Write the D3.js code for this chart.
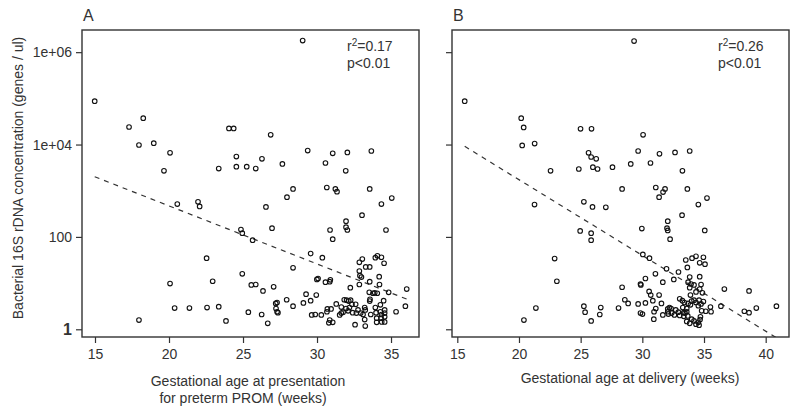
<!DOCTYPE html>
<html>
<head>
<meta charset="utf-8">
<script src="https://cdn.jsdelivr.net/npm/d3@7"></script>
<style>
  body { margin: 0; background: #fff; }
  text { font-family: "Liberation Sans", Arial, sans-serif; fill: #333; }
</style>
</head>
<body>
<div id="chart"></div>
<script>
// y values are log10(genes / ul)
const weeksA = [29.03,14.98,17.3,18.26,24.05,24.37,26.87,17.97,18.97,20.07,19.66,23.36,24.55,24.55,25.25,25.86,26.28,27.66,29.37,30.57,31.06,32.05,31.94,33.67,
  28.38,27.97,30.66,31.24,31.35,33.56,34.35,35.05,20.56,21.96,22.07,26.55,33.04,31.96,31.96,32.05,24.86,24.95,25.65,26.96,30.88,31.06,34.66,22.54,29.57,30.36,32.86,33.06,33.94,34.08,34.35,34.53,28.38,33.29,33.56,
  20.07,22.95,24.95,25.56,25.86,26.35,20.38,21.38,22.57,23.36,17.97,23.85,25.36,26.26,26.67,
  32.86,32.9,33.0,34.2,32.86,34.22,33.56,29.99,30.07,30.57,30.86,30.9,32.25,27.07,29.26,29.95,27.95,29.57,29.08,28.38,27.21,27.3,27.23,27.3,27.36,29.64,29.88,30.29,30.7,30.95,30.67,30.86,31.06,30.8,31.3,31.64,31.53,31.64,31.76,31.84,32.0,32.14,32.27,31.96,32.1,32.19,32.36,32.41,32.61,32.66,32.77,32.57,32.95,33.11,33.26,33.22,33.22,33.26,33.56,33.58,33.53,33.78,33.9,34.07,33.63,33.94,33.99,34.03,34.03,34.28,34.28,34.35,34.33,34.37,34.5,34.57,34.57,34.57,34.57,34.84,35.34,35.97,36.06];
const logConcA = [6.25,4.94,4.38,4.57,4.35,4.35,4.21,3.99,4.03,3.82,3.43,3.48,3.74,3.52,3.52,3.48,3.69,3.58,3.87,3.60,3.81,3.83,3.43,3.86,
  3.04,2.86,3.07,3.04,2.98,3.04,2.71,2.84,2.71,2.76,2.66,2.65,2.47,2.34,2.21,2.15,2.16,2.08,1.93,2.19,2.15,1.95,2.15,1.54,1.64,1.55,1.45,1.52,1.55,1.59,1.56,1.43,1.33,1.35,1.35,
  0.99,1.04,1.20,0.96,0.97,0.83,0.46,0.46,0.47,0.49,0.20,0.18,0.37,0.32,0.13,
  1.26,1.16,1.13,1.14,0.97,0.97,1.03,1.08,1.10,1.02,1.03,1.07,0.90,0.92,0.76,0.74,0.64,0.62,0.57,0.50,0.56,0.58,0.45,0.38,0.36,0.31,0.32,0.31,0.44,0.44,0.38,0.20,0.15,0.14,0.55,0.48,0.31,0.35,0.37,0.64,0.63,0.61,0.63,0.45,0.40,0.47,0.54,0.36,0.54,0.35,0.42,0.10,0.35,0.32,0.42,0.47,0.21,0.07,0.61,0.65,0.80,0.78,0.79,0.78,0.32,0.47,0.36,0.24,0.15,0.53,0.38,0.32,0.24,0.16,0.62,0.42,0.35,0.27,0.16,0.80,0.38,0.50,0.87];

const weeksB = [29.33,15.6,20.18,20.38,20.26,21.27,24.99,25.88,30.06,25.64,25.85,26.26,25.99,26.37,24.85,22.56,27.58,29.06,29.66,30.66,31.39,32.65,33.84,33.25,
  28.36,31.09,31.84,31.68,31.36,33.65,35.24,34.54,21.26,25.26,25.96,27.04,33.22,32.06,32.0,32.06,29.96,32.25,35.06,24.96,25.85,25.85,22.89,23.07,30.04,30.58,
  20.4,21.37,25.26,25.36,25.85,26.63,26.55,28.07,28.36,28.58,28.85,29.66,29.85,29.88,29.85,30.01,30.25,30.25,30.55,30.68,30.85,31.06,31.09,30.95,30.93,31.36,31.55,31.66,31.66,31.96,32.55,32.93,
  32.06,32.06,32.2,32.33,32.11,32.38,32.6,32.71,32.92,33.03,33.03,33.25,33.41,33.28,33.36,33.36,33.46,33.6,33.6,33.68,33.52,33.65,34.03,34.35,34.95,34.65,35.08,33.84,33.71,33.95,33.84,34.19,34.65,34.76,34.87,34.65,34.35,33.9,33.71,33.9,34.0,34.19,34.35,34.6,34.54,34.76,34.95,35.14,35.52,35.57,33.6,33.84,34.0,34.19,34.35,34.54,34.68,34.71,34.81,34.6,
  36.37,36.65,38.27,38.65,38.65,39.24,40.87];
const logConcB = [6.24,4.94,4.57,4.37,3.98,4.02,4.34,4.34,4.21,3.82,3.73,3.69,3.51,3.47,3.47,3.43,3.51,3.58,3.86,3.60,3.80,3.83,3.86,3.43,
  3.04,3.07,3.04,2.97,2.86,3.04,2.84,2.70,2.70,2.76,2.65,2.64,2.47,2.34,2.19,2.14,2.18,1.95,2.14,2.13,2.08,1.93,1.53,1.04,1.62,1.54,
  0.20,0.46,0.50,0.37,0.18,0.47,0.32,0.46,0.91,0.64,0.56,0.55,0.98,0.96,0.35,0.33,1.10,0.57,0.82,0.74,0.62,1.20,0.45,0.38,0.22,0.74,0.56,1.02,0.31,1.31,1.08,1.24,
  0.44,0.38,0.47,0.45,0.33,0.35,0.31,0.42,0.37,0.30,0.66,0.62,0.58,0.47,0.36,0.28,0.35,0.45,0.38,0.29,1.50,1.34,1.54,1.58,1.56,1.44,1.41,1.13,1.02,0.98,0.90,0.96,1.14,0.97,0.79,0.87,0.81,0.74,0.56,0.53,0.61,0.63,0.58,0.63,0.51,0.55,0.60,0.39,0.48,0.38,0.17,0.13,0.22,0.18,0.11,0.15,0.21,0.27,0.40,0.09,
  0.50,0.87,0.39,0.36,0.83,0.46,0.50];

// fitted lines: log10(conc) = intercept + slope * weeks
const fitA = { intercept: 5.186, slope: -0.1257 };
const fitB = { intercept: 6.519, slope: -0.164 };

const yTicks = [1, 100, 1e4, 1e6];
const yTickLabels = ["1", "100", "1e+04", "1e+06"];
const xTicksA = [15, 20, 25, 30, 35];
const xTicksB = [15, 20, 25, 30, 35, 40];

const W = 800, H = 414;
const plotTop = 30, plotBottom = 337;

const svg = d3.select("#chart").append("svg")
  .attr("width", W).attr("height", H);

const y = d3.scaleLog()
  .domain([Math.pow(10, -0.167), Math.pow(10, 6.48)])
  .range([plotBottom, plotTop]);

function panel(cfg) {
  const x = d3.scaleLinear().domain(cfg.xDomain).range([cfg.left, cfg.right]);
  const g = svg.append("g");
  const clipId = "clip" + cfg.name;

  g.append("clipPath").attr("id", clipId)
    .append("rect")
    .attr("x", cfg.left).attr("y", plotTop)
    .attr("width", cfg.right - cfg.left).attr("height", plotBottom - plotTop);

  // x axis
  const xAxis = g.append("g")
    .attr("transform", `translate(0,${plotBottom})`)
    .call(d3.axisBottom(x).tickValues(cfg.xTicks).tickSize(6).tickPadding(6));
  xAxis.select(".domain").remove();
  xAxis.selectAll("line").attr("stroke", "#333").attr("stroke-width", 1.2);
  xAxis.selectAll("text").style("font-size", "14px").attr("fill", "#333");

  // y axis
  const yAxis = g.append("g")
    .attr("transform", `translate(${cfg.left},0)`)
    .call(d3.axisLeft(y).tickValues(yTicks).tickSize(6).tickPadding(4)
      .tickFormat((d, i) => cfg.yLabels ? yTickLabels[i] : ""));
  yAxis.select(".domain").remove();
  yAxis.selectAll("line").attr("stroke", "#333").attr("stroke-width", 1.2);
  yAxis.selectAll("text").attr("fill", "#333")
    .style("font-weight", d => d === 1 ? "bold" : "normal")
    .style("font-size", d => d === 1 ? "16px" : "14px");

  // regression line
  const x0 = d3.min(cfg.weeks), x1 = d3.max(cfg.weeks);
  g.append("line")
    .attr("clip-path", `url(#${clipId})`)
    .attr("x1", x(x0)).attr("y1", y(Math.pow(10, cfg.fit.intercept + cfg.fit.slope * x0)))
    .attr("x2", x(x1)).attr("y2", y(Math.pow(10, cfg.fit.intercept + cfg.fit.slope * x1)))
    .attr("stroke", "#333").attr("stroke-width", 1.2)
    .attr("stroke-dasharray", "5,5");

  // points
  g.append("g").selectAll("circle")
    .data(cfg.weeks.map((w, i) => [w, Math.pow(10, cfg.logs[i])]))
    .enter().append("circle")
    .attr("cx", d => x(d[0]))
    .attr("cy", d => y(d[1]))
    .attr("r", 2.3)
    .attr("fill", "none")
    .attr("stroke", "#111")
    .attr("stroke-width", 1.1);

  // frame
  g.append("rect")
    .attr("x", cfg.left).attr("y", plotTop)
    .attr("width", cfg.right - cfg.left).attr("height", plotBottom - plotTop)
    .attr("fill", "none").attr("stroke", "#333").attr("stroke-width", 1.4);

  // panel letter
  g.append("text").attr("x", cfg.left + 1).attr("y", 21)
    .style("font-size", "16px").text(cfg.name);

  // stats
  const st = g.append("text").attr("x", cfg.statX).attr("y", 51).style("font-size", "14px");
  st.append("tspan").text("r");
  st.append("tspan").attr("dy", -5).style("font-size", "10px").text("2");
  st.append("tspan").attr("dy", 5).text("=" + cfg.r2);
  g.append("text").attr("x", cfg.statX).attr("y", 68).style("font-size", "14px").text("p<0.01");

  // x title
  cfg.xTitle.forEach(t => {
    g.append("text").attr("x", t.x).attr("y", t.y)
      .attr("text-anchor", "middle").style("font-size", "14px").text(t.text);
  });
}

panel({
  name: "A", left: 82, right: 419, xDomain: [14.122, 36.89], xTicks: xTicksA,
  weeks: weeksA, logs: logConcA, fit: fitA, yLabels: true, statX: 347, r2: "0.17",
  xTitle: [{ text: "Gestational age at presentation", x: 248, y: 386 },
           { text: "for preterm PROM (weeks)", x: 243, y: 403 }]
});

panel({
  name: "B", left: 452, right: 789, xDomain: [14.57, 41.89], xTicks: xTicksB,
  weeks: weeksB, logs: logConcB, fit: fitB, yLabels: false, statX: 718, r2: "0.26",
  xTitle: [{ text: "Gestational age at delivery (weeks)", x: 630, y: 383 }]
});

// y title
svg.append("text")
  .attr("transform", "translate(23,178) rotate(-90)")
  .attr("text-anchor", "middle")
  .style("font-size", "14px")
  .text("Bacterial 16S rDNA concentration (genes / ul)");
</script>
</body>
</html>
